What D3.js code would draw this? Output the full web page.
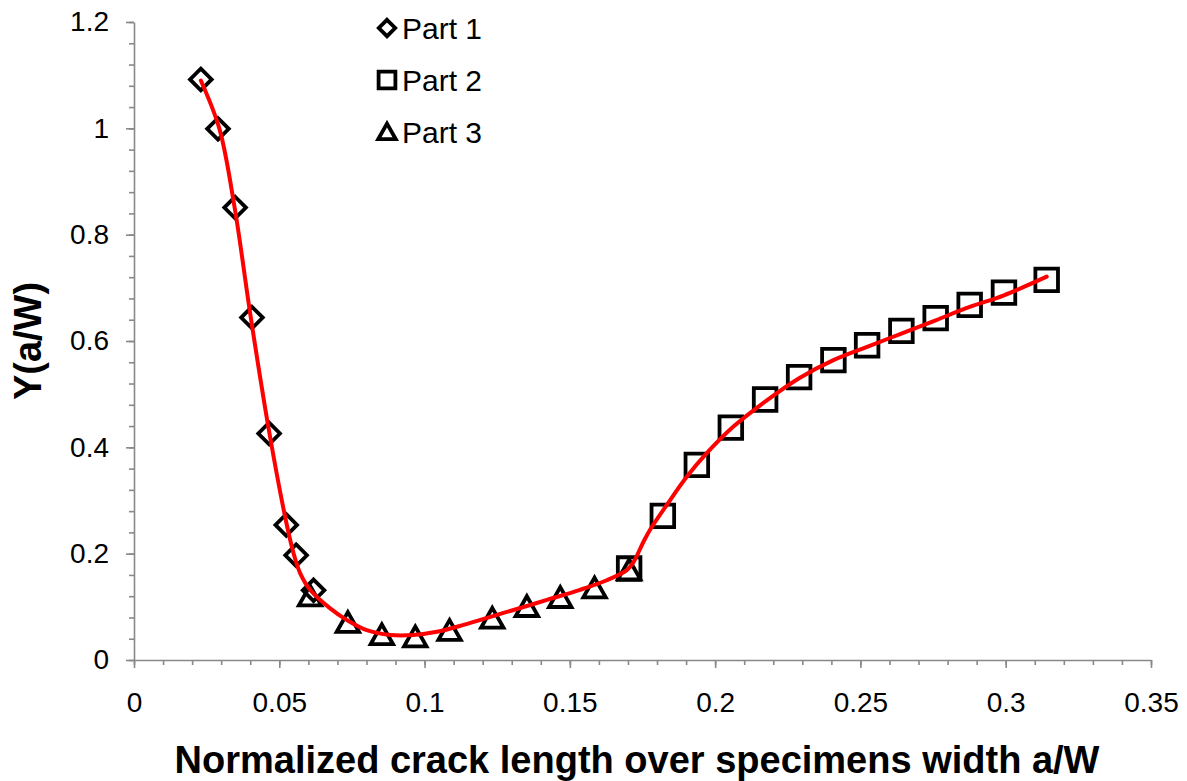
<!DOCTYPE html>
<html>
<head>
  <meta charset='utf-8'>
  <title>Y(a/W)</title>
  <script src='https://cdn.jsdelivr.net/npm/d3@7/dist/d3.min.js'></script>
  <style>
    body { margin: 0; background: #ffffff; }
    text { font-family: Arial, 'Liberation Sans', sans-serif; }
  </style>
</head>
<body>
  <svg id='plot-area' width='1187' height='781'></svg>
  <script>
    // Part 1 (diamonds)
    const part1X = [0.0230, 0.0289, 0.0348, 0.0406, 0.0465, 0.0524, 0.0558, 0.0618];
    const part1Y = [1.092, 0.999, 0.851, 0.644, 0.426, 0.254, 0.197, 0.131];
    // Part 2 (squares)
    const part2X = [0.1704, 0.1820, 0.1937, 0.2054, 0.2172, 0.2289, 0.2407, 0.2523,
                    0.2641, 0.2759, 0.2876, 0.2994, 0.3141];
    const part2Y = [0.172, 0.271, 0.367, 0.437, 0.490, 0.532, 0.564, 0.592,
                    0.619, 0.643, 0.668, 0.691, 0.715];
    // Part 3 (triangles)
    const part3X = [0.0606, 0.0736, 0.0853, 0.0968, 0.1086, 0.1233, 0.1352, 0.1467, 0.1585, 0.1704];
    const part3Y = [0.120, 0.070, 0.047, 0.043, 0.055, 0.078, 0.100, 0.117, 0.135, 0.169];
    // fitted curve (red)
    const fitX = [0.0230, 0.0294, 0.0346, 0.0402, 0.0466, 0.0526, 0.0551, 0.0572, 0.0606, 0.0675,
                  0.0733, 0.0801, 0.0882, 0.0962, 0.1042, 0.1134, 0.1249, 0.1306, 0.1421, 0.1535,
                  0.1627, 0.1696, 0.1719, 0.1753, 0.1776, 0.1834, 0.1903, 0.1971, 0.2063, 0.2172,
                  0.2289, 0.2407, 0.2523, 0.2641, 0.2759, 0.2876, 0.2994, 0.3141];
    const fitY = [1.090, 0.999, 0.852, 0.644, 0.427, 0.254, 0.197, 0.163, 0.132, 0.097,
                  0.075, 0.056, 0.047, 0.047, 0.053, 0.066, 0.085, 0.094, 0.113, 0.132,
                  0.150, 0.169, 0.184, 0.222, 0.245, 0.292, 0.345, 0.389, 0.439, 0.486,
                  0.530, 0.564, 0.589, 0.614, 0.639, 0.664, 0.686, 0.721];
    const xTicks = [0, 0.05, 0.1, 0.15, 0.2, 0.25, 0.3, 0.35];
    const yTicks = [0, 0.2, 0.4, 0.6, 0.8, 1, 1.2];
    const legendLabels = ['Part 1', 'Part 2', 'Part 3'];

    const svg = d3.select('#plot-area');
    const scaleX = d3.scaleLinear().domain([0, 0.35]).range([134, 1151]);
    const scaleY = d3.scaleLinear().domain([0, 1.2]).range([660, 22]);
    const axisColor = '#898989';
    const fmt = (d) => String(+d.toFixed(2));

    // minor ticks
    const minorX = d3.range(0, 36).map((i) => i / 100);
    const minorY = d3.range(0, 31).map((i) => i * 0.04);
    svg.append('g')
        .attr('transform', `translate(0, ${scaleY(0)})`)
        .call(d3.axisBottom(scaleX).tickValues(minorX).tickSize(5).tickSizeOuter(0).tickFormat(''))
        .call((g) => g.select('.domain').remove());
    svg.append('g')
        .attr('transform', `translate(${scaleX(0)}, 0)`)
        .call(d3.axisLeft(scaleY).tickValues(minorY).tickSize(5).tickSizeOuter(0).tickFormat(''))
        .call((g) => g.select('.domain').remove());

    const gx = svg.append('g')
        .attr('transform', `translate(0, ${scaleY(0)})`)
        .call(d3.axisBottom(scaleX).tickValues(xTicks).tickSize(8).tickSizeOuter(0)
            .tickFormat(fmt).tickPadding(24));
    const gy = svg.append('g')
        .attr('transform', `translate(${scaleX(0)}, 0)`)
        .call(d3.axisLeft(scaleY).tickValues(yTicks).tickSize(8).tickSizeOuter(0)
            .tickFormat(fmt).tickPadding(17));
    [gx, gy].forEach((g) => {
        g.selectAll('text').attr('fill', '#000').style('font-size', '28px')
            .style('font-family', 'Arial, Liberation Sans, sans-serif');
    });
    svg.selectAll('.domain, .tick line')
        .attr('stroke', axisColor)
        .attr('stroke-width', 1.6);

    // marker shapes around (0, 0)
    const diamond = (r) => `M0,${-r}L${r},0L0,${r}L${-r},0Z`;
    const square = (r) => `M${-r},${-r}H${r}V${r}H${-r}Z`;
    const triangle = (r) => `M0,${-r * 0.95}L${r},${r * 0.82}H${-r}Z`;

    const drawPoints = (xs, ys, shape, size) => {
        svg.append('g')
            .selectAll('path')
            .data(xs.map((x, i) => ({ x: x, y: ys[i] })))
            .join('path')
            .attr('transform', (d) => `translate(${scaleX(d.x)}, ${scaleY(d.y)})`)
            .attr('d', shape(size))
            .attr('fill', 'none')
            .attr('stroke', '#000')
            .attr('stroke-width', 3.8)
            .attr('stroke-linejoin', 'miter');
    };
    drawPoints(part1X, part1Y, diamond, 10.8);
    drawPoints(part3X, part3Y, triangle, 11.2);
    drawPoints(part2X, part2Y, square, 11.3);

    // red fitted line on top
    const line = d3.line()
        .x((d) => scaleX(d.x))
        .y((d) => scaleY(d.y))
        .curve(d3.curveCatmullRom.alpha(0.5));
    svg.append('path')
        .datum(fitX.map((x, i) => ({ x: x, y: fitY[i] })))
        .attr('fill', 'none')
        .attr('stroke', '#ff0000')
        .attr('stroke-width', 4)
        .attr('stroke-linejoin', 'round')
        .attr('stroke-linecap', 'round')
        .attr('d', line);

    // legend
    const legendShapes = [diamond(8.2), square(8.4), triangle(8.8)];
    const legend = svg.append('g')
        .selectAll('g')
        .data(legendLabels)
        .join('g')
        .attr('transform', (d, i) => `translate(387, ${28 + i * 52})`);
    legend.append('path')
        .attr('d', (d, i) => legendShapes[i])
        .attr('fill', 'none')
        .attr('stroke', '#000')
        .attr('stroke-width', 3.8);
    legend.append('text')
        .attr('x', 15)
        .attr('y', 11)
        .style('font-size', '30px')
        .text((d) => d);

    // axis titles
    svg.append('text')
        .attr('x', 637)
        .attr('y', 773)
        .attr('text-anchor', 'middle')
        .style('font-size', '38px')
        .style('font-weight', 'bold')
        .text('Normalized crack length over specimens width a/W');
    svg.append('text')
        .attr('transform', `translate(41, ${scaleY(0.6)}) rotate(-90)`)
        .attr('text-anchor', 'middle')
        .style('font-size', '38px')
        .style('font-weight', 'bold')
        .text('Y(a/W)');
  </script>
</body>
</html>
